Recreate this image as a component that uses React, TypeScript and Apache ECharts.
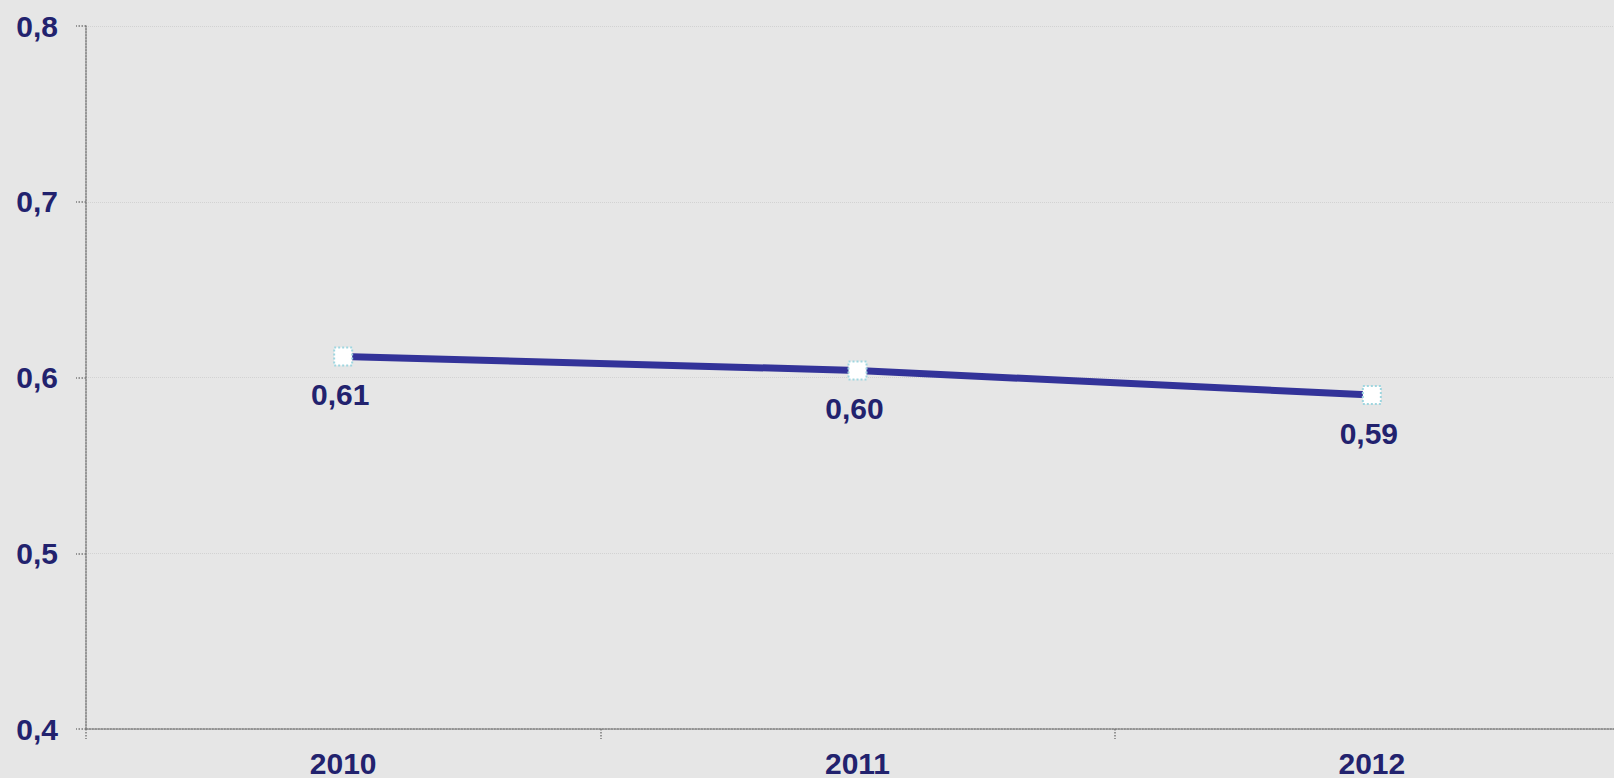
import React, { useEffect, useRef } from "react";
import * as echarts from "echarts";

const years = ["2010", "2011", "2012"];
const values = [0.612, 0.604, 0.59];
const yTicks = { min: 0.4, max: 0.8, interval: 0.1 };

export default function App() {
  const ref = useRef<HTMLDivElement>(null);
  useEffect(() => {
    if (!ref.current) return;
    const chart = echarts.init(ref.current, null, { renderer: "svg" });
    const font = "'Liberation Sans', Arial, sans-serif";
    const navy = "#22226e";
    chart.setOption({
      animation: false,
      backgroundColor: "#e6e6e6",
      grid: { left: 86, top: 26, width: 1543, height: 703, containLabel: false },
      xAxis: {
        type: "category",
        data: years,
        boundaryGap: true,
        axisLine: { lineStyle: { color: "#7a7a7a", width: 1.5, type: "dotted" } },
        axisTick: { show: true, length: 10, lineStyle: { color: "#7a7a7a", width: 1.5, type: "dotted" } },
        axisLabel: { color: navy, fontFamily: font, fontWeight: "bold", fontSize: 30, margin: 19 },
        splitLine: { show: false },
      },
      yAxis: {
        type: "value",
        min: yTicks.min,
        max: yTicks.max,
        interval: yTicks.interval,
        axisLine: { show: true, lineStyle: { color: "#7a7a7a", width: 1.5, type: "dotted" } },
        axisTick: { show: true, length: 10, lineStyle: { color: "#7a7a7a", width: 1.5, type: "dotted" } },
        axisLabel: {
          color: navy,
          fontFamily: font,
          fontWeight: "bold",
          fontSize: 30,
          margin: 28,
          formatter: (v: number) => v.toFixed(1).replace(".", ","),
        },
        splitLine: { show: true, lineStyle: { color: "#d2d2d2", width: 1, type: "dotted" } },
      },
      series: [
        {
          type: "line",
          data: values,
          symbol: "rect",
          symbolSize: 18,
          lineStyle: { color: "#333399", width: 7 },
          itemStyle: { color: "#ffffff", borderColor: "#9fd6df", borderWidth: 2, borderType: "dotted" },
          label: {
            show: true,
            position: "bottom",
            distance: 13,
            color: navy,
            fontFamily: font,
            fontWeight: "bold",
            fontSize: 30,
            offset: [-3, 0],
            formatter: (p: any) => (p.value as number).toFixed(2).replace(".", ","),
          },
        },
      ],
    });
    return () => chart.dispose();
  }, []);
  return (
    <div
      style={{
        position: "fixed",
        left: 0,
        top: 0,
        width: 1614,
        height: 778,
        overflow: "hidden",
        background: "#e6e6e6",
      }}
    >
      <div ref={ref} style={{ width: 1640, height: 778 }} />
    </div>
  );
}
